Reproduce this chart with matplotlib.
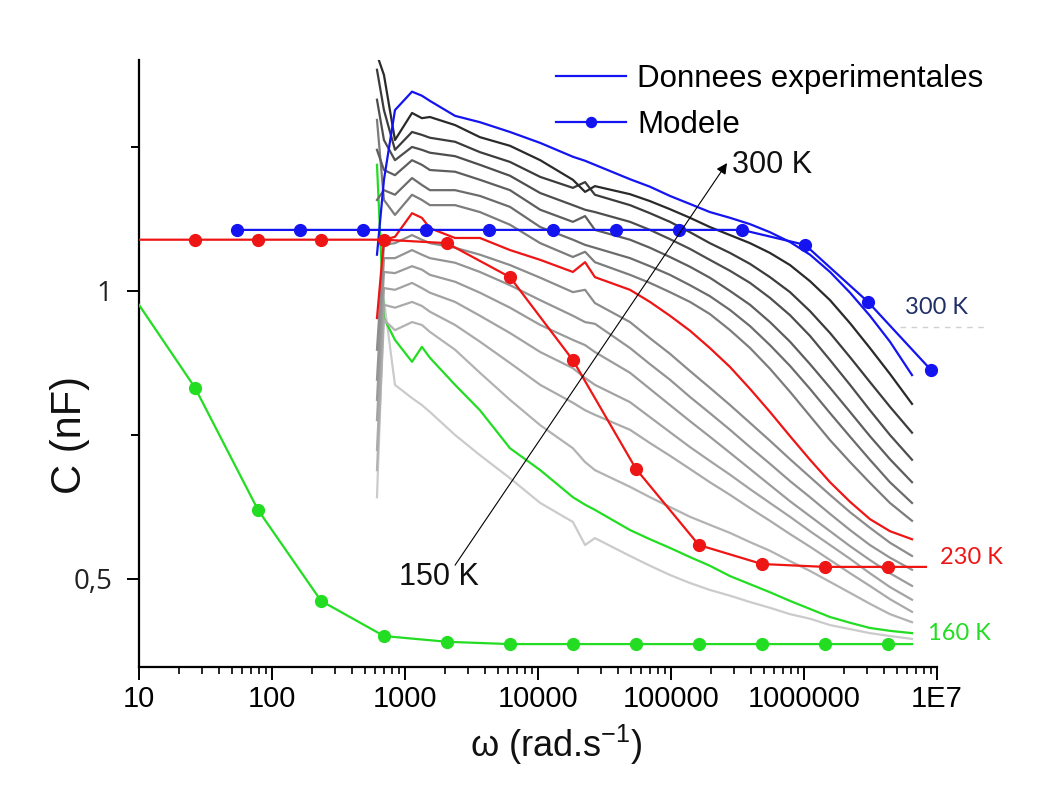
import matplotlib
matplotlib.use('Agg')
import matplotlib.pyplot as plt
from matplotlib import font_manager as fm
from matplotlib.ticker import FixedLocator, FixedFormatter, LogLocator, NullFormatter

names = {f.name for f in fm.fontManager.ttflist}
NARROW = 'Liberation Sans Narrow' if 'Liberation Sans Narrow' in names else 'Liberation Sans'

# ---------------- data ----------------
# experimental frequency grid (rad/s)
omega = [616, 695, 841, 1130, 1340, 1540, 2380, 3660, 6160, 10400, 18300, 22600, 26800,
         49200, 69500, 98200, 139000, 196000, 278000, 393000, 555000, 785000,
         1110000, 1570000, 2220000, 3130000, 4430000, 6490000]

C_300 = [1.063, 1.193, 1.314, 1.346, 1.339, 1.330, 1.304, 1.293, 1.276, 1.257, 1.233, 1.226, 1.219,
         1.194, 1.181, 1.165, 1.151, 1.137, 1.127, 1.116, 1.102, 1.085,
         1.063, 1.033, 0.997, 0.957, 0.912, 0.854]
C_290 = [1.410, 1.375, 1.262, 1.309, 1.300, 1.302, 1.288, 1.267, 1.252, 1.227, 1.193, 1.172, 1.182,
         1.168, 1.156, 1.142, 1.127, 1.111, 1.097, 1.083, 1.066, 1.045,
         1.017, 0.984, 0.944, 0.901, 0.856, 0.804]
C_280 = [1.384, 1.314, 1.245, 1.276, 1.271, 1.266, 1.259, 1.241, 1.224, 1.198, 1.179, 1.189, 1.167,
         1.149, 1.135, 1.120, 1.102, 1.083, 1.066, 1.047, 1.024, 0.998,
         0.965, 0.927, 0.885, 0.842, 0.799, 0.754]
C_270 = [1.332, 1.262, 1.227, 1.250, 1.245, 1.240, 1.234, 1.219, 1.200, 1.170, 1.149, 1.141, 1.137,
         1.120, 1.106, 1.090, 1.073, 1.054, 1.035, 1.014, 0.988, 0.958,
         0.922, 0.880, 0.837, 0.793, 0.750, 0.707]
C_260 = [1.245, 1.210, 1.201, 1.227, 1.219, 1.210, 1.207, 1.193, 1.175, 1.141, 1.120, 1.130, 1.106,
         1.089, 1.075, 1.059, 1.042, 1.023, 1.000, 0.976, 0.946, 0.912,
         0.873, 0.832, 0.790, 0.748, 0.708, 0.668]
C_250 = [1.158, 1.175, 1.167, 1.196, 1.184, 1.175, 1.175, 1.165, 1.146, 1.111, 1.089, 1.080, 1.075,
         1.057, 1.043, 1.028, 1.010, 0.991, 0.967, 0.939, 0.906, 0.870,
         0.830, 0.788, 0.747, 0.707, 0.668, 0.632]
C_240 = [1.297, 1.158, 1.132, 1.167, 1.158, 1.149, 1.149, 1.137, 1.115, 1.083, 1.059, 1.068, 1.050,
         1.028, 1.014, 0.998, 0.981, 0.960, 0.932, 0.901, 0.865, 0.825,
         0.783, 0.741, 0.703, 0.667, 0.632, 0.601]
C_230 = [0.953, 1.089, 1.094, 1.135, 1.127, 1.109, 1.092, 1.092, 1.071, 1.054, 1.033, 1.050, 1.024,
         1.002, 0.981, 0.957, 0.931, 0.901, 0.868, 0.830, 0.790, 0.748,
         0.707, 0.668, 0.634, 0.604, 0.583, 0.569]
C_220 = [0.898, 1.080, 1.083, 1.097, 1.089, 1.083, 1.075, 1.063, 1.045, 1.023, 0.998, 1.002, 0.979,
         0.946, 0.918, 0.891, 0.861, 0.832, 0.802, 0.771, 0.740, 0.708,
         0.677, 0.646, 0.616, 0.589, 0.563, 0.540]
C_210 = [0.846, 1.057, 1.057, 1.071, 1.063, 1.057, 1.049, 1.033, 1.010, 0.984, 0.957, 0.946, 0.943,
         0.901, 0.873, 0.846, 0.816, 0.788, 0.759, 0.729, 0.700, 0.670,
         0.642, 0.613, 0.585, 0.559, 0.537, 0.516]
C_200 = [0.811, 1.033, 1.031, 1.043, 1.037, 1.028, 1.016, 0.997, 0.971, 0.941, 0.915, 0.906, 0.894,
         0.858, 0.830, 0.802, 0.774, 0.747, 0.719, 0.691, 0.663, 0.635,
         0.609, 0.583, 0.557, 0.533, 0.510, 0.488]
C_190 = [0.776, 1.005, 1.002, 1.014, 1.005, 0.997, 0.981, 0.957, 0.927, 0.894, 0.866, 0.849, 0.837,
         0.807, 0.781, 0.755, 0.729, 0.705, 0.681, 0.656, 0.632, 0.608,
         0.583, 0.559, 0.535, 0.510, 0.486, 0.464]
C_180 = [0.724, 0.976, 0.971, 0.981, 0.974, 0.964, 0.941, 0.912, 0.875, 0.837, 0.806, 0.793, 0.785,
         0.759, 0.736, 0.714, 0.691, 0.668, 0.646, 0.623, 0.601, 0.578,
         0.556, 0.533, 0.510, 0.488, 0.465, 0.443]
C_170 = [0.689, 0.950, 0.932, 0.946, 0.941, 0.929, 0.898, 0.858, 0.811, 0.767, 0.727, 0.703, 0.689,
         0.660, 0.642, 0.625, 0.608, 0.594, 0.580, 0.564, 0.549, 0.531,
         0.514, 0.495, 0.476, 0.457, 0.439, 0.425]
C_160 = [1.219, 0.953, 0.915, 0.877, 0.903, 0.884, 0.837, 0.793, 0.727, 0.689, 0.642, 0.629, 0.620,
         0.585, 0.569, 0.554, 0.538, 0.523, 0.505, 0.491, 0.477, 0.462,
         0.448, 0.434, 0.424, 0.415, 0.410, 0.406]
C_150 = [0.642, 0.984, 0.837, 0.814, 0.802, 0.790, 0.750, 0.715, 0.675, 0.632, 0.599, 0.559, 0.571,
         0.540, 0.523, 0.507, 0.493, 0.481, 0.471, 0.460, 0.450, 0.439,
         0.431, 0.420, 0.413, 0.406, 0.401, 0.396]

temperatures = [150, 160, 170, 180, 190, 200, 210, 220, 230, 240, 250, 260, 270, 280, 290, 300]

# model curves
omega_model_160 = [10, 26.4, 78.5, 234, 695, 2070, 6160, 18300, 54600, 162000,
                   483000, 1440000, 4280000, 6490000]
C_model_160 = [0.976, 0.832, 0.620, 0.462, 0.401, 0.391, 0.387, 0.387, 0.387, 0.387,
               0.387, 0.387, 0.387, 0.387]
omega_model_230 = [10, 26.4, 78.5, 234, 695, 2070, 6160, 18300, 54600, 162000,
                   483000, 1440000, 4280000, 8260000]
C_model_230 = [1.089, 1.089, 1.089, 1.089, 1.089, 1.083, 1.024, 0.880, 0.691, 0.559,
               0.526, 0.521, 0.521, 0.521]
omega_model_300 = [54.6, 162, 483, 1440, 4300, 12900, 38500, 115000, 342000,
                   1020000, 3030000, 9000000]
C_model_300 = [1.106, 1.106, 1.106, 1.106, 1.106, 1.106, 1.106, 1.106, 1.106,
               1.080, 0.981, 0.863]

x_ticks = [1e1, 1e2, 1e3, 1e4, 1e5, 1e6, 1e7]
x_ticklabels = ['10', '100', '1000', '10000', '100000', '1000000', '1E7']
y_ticks = [0.5, 1.0]
y_ticklabels = ['0,5', '1']
y_minor = [0.75, 1.25]

curves = {150: C_150, 160: C_160, 170: C_170, 180: C_180, 190: C_190, 200: C_200,
          210: C_210, 220: C_220, 230: C_230, 240: C_240, 250: C_250, 260: C_260,
          270: C_270, 280: C_280, 290: C_290, 300: C_300}

# ---------------- style ----------------
BLUE = '#1414f0'
RED = '#ee1515'
GREEN = '#22dd22'
grays = {150: '#cbcbcb', 170: '#b2b2b2', 180: '#aaaaaa', 190: '#a3a3a3', 200: '#9b9b9b',
         210: '#949494', 220: '#8c8c8c', 240: '#7c7c7c', 250: '#6c6c6c', 260: '#5e5e5e',
         270: '#4e4e4e', 280: '#3c3c3c', 290: '#2a2a2a'}
special = {160: GREEN, 230: RED, 300: BLUE}

fig = plt.figure(figsize=(10.44, 7.85), dpi=100)
ax = fig.add_axes([0.1331, 0.1503, 0.7644, 0.7733])
ax.set_xscale('log')

handles = {}
for i, T in enumerate(temperatures):
    col = special.get(T, grays.get(T))
    ln, = ax.plot(omega, curves[T], color=col, lw=1.6, zorder=2 + i * 0.01,
                  solid_joinstyle='round')
    handles[T] = ln

mk = dict(marker='o', markersize=8.5, lw=1.6)
ax.plot(omega_model_160, C_model_160, color=GREEN, markevery=slice(1, 13), zorder=4, **mk)
ax.plot(omega_model_230, C_model_230, color=RED, markevery=slice(1, 13), zorder=4, **mk)
model_ln, = ax.plot(omega_model_300, C_model_300, color=BLUE, zorder=4, **mk)

ax.set_xlim(10, 1e7)
ax.set_ylim(0.3472, 1.401)

for s in ('top', 'right'):
    ax.spines[s].set_visible(False)
for s in ('left', 'bottom'):
    ax.spines[s].set_linewidth(1.6)

ax.xaxis.set_major_locator(FixedLocator(x_ticks))
ax.xaxis.set_major_formatter(FixedFormatter(x_ticklabels))
ax.xaxis.set_minor_locator(LogLocator(base=10, subs=range(2, 10), numticks=50))
ax.xaxis.set_minor_formatter(NullFormatter())
ax.yaxis.set_major_locator(FixedLocator(y_ticks))
ax.yaxis.set_major_formatter(FixedFormatter(y_ticklabels))
ax.yaxis.set_minor_locator(FixedLocator(y_minor))

ax.tick_params(axis='x', which='major', direction='out', length=9, width=1.4, pad=4)
ax.tick_params(axis='x', which='minor', direction='out', length=5, width=1.2)
ax.tick_params(axis='y', which='major', direction='out', length=9, width=1.4, pad=10)
ax.tick_params(axis='y', which='minor', direction='out', length=6, width=1.4)
for lab in ax.get_xticklabels():
    lab.set_fontfamily(NARROW)
    lab.set_fontsize(21)
for lab in ax.get_yticklabels():
    lab.set_fontfamily('Open Sans')
    lab.set_fontsize(20)
    lab.set_color('#222222')

# legend
leg = ax.legend([handles[300], model_ln], ['Donnees experimentales', 'Modele'],
                loc='upper left', bbox_to_anchor=(556 / 1044, 1 - 64 / 785),
                bbox_transform=fig.transFigure, frameon=False, borderpad=0,
                borderaxespad=0, handlelength=2.25, handletextpad=0.35,
                labelspacing=0.5, numpoints=1, markerscale=0.85,
                prop={'family': 'Liberation Sans', 'size': 22.5})

# arrow and temperature annotations
ax.annotate('', xy=(263700, 1.222), xytext=(2380, 0.524),
            arrowprops=dict(arrowstyle='-|>', lw=0.8, color='black',
                            mutation_scale=16, shrinkA=0, shrinkB=0), zorder=5)
ax.text(290000, 1.219, '300 K', family='Liberation Sans', size=22, va='center', ha='left',
        color='#111111')
ax.text(900, 0.5035, '150 K', family='Liberation Sans', size=22, va='center', ha='left',
        color='#111111', zorder=6)

fig.text(905 / 1044, 1 - 307 / 785, '300 K', family='Lato', size=17, color='#1f2f66',
         va='center', ha='left')
fig.add_artist(plt.Line2D([900 / 1044, 985 / 1044], [1 - 327 / 785, 1 - 327 / 785],
                          transform=fig.transFigure, color='#d0d0d0', lw=1,
                          ls=(0, (4, 4))))
fig.text(940 / 1044, 1 - 557 / 785, '230 K', family='Lato', size=17, color=RED,
         va='center', ha='left')
fig.text(928 / 1044, 1 - 634 / 785, '160 K', family='Lato', size=17, color=GREEN,
         va='center', ha='left')

fig.text(70 / 1044, 1 - 435 / 785, 'C (nF)', family='Liberation Sans', size=30,
         rotation=90, ha='center', va='center', color='#111111')
fig.text(556 / 1044, 1 - 745 / 785, 'ω (rad.s$^{\\mathregular{-1}}$)', family=NARROW,
         size=26, ha='center', va='center', color='#111111')

fig.savefig('out.png', dpi=100)
